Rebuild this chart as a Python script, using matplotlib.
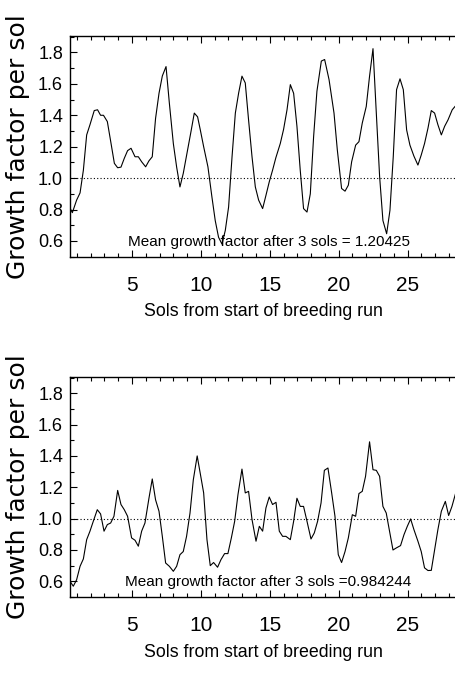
import matplotlib
matplotlib.use("Agg")
import matplotlib.pyplot as plt
from matplotlib import font_manager
from matplotlib.ticker import MultipleLocator

# ---------------- data ----------------
top_sols = [0.52, 0.67, 0.98, 1.23, 1.47, 1.71, 1.95, 2.26, 2.5, 2.72, 2.93, 3.21, 3.48, 3.72,
            3.96, 4.2, 4.44, 4.68, 4.93, 5.22, 5.46, 5.70, 5.99, 6.23, 6.47, 6.71, 6.96, 7.2,
            7.47, 7.71, 8.0, 8.24, 8.48, 8.72, 9.01, 9.28, 9.52, 9.76, 9.95, 10.2, 10.51, 10.8,
            11.04, 11.28, 11.53, 11.77, 12.01, 12.26, 12.5, 12.74, 12.98, 13.22, 13.46, 13.71,
            13.95, 14.19, 14.48, 14.72, 14.96, 15.2, 15.44, 15.76, 16.0, 16.25, 16.49, 16.73,
            16.97, 17.21, 17.45, 17.7, 17.94, 18.18, 18.42, 18.74, 18.98, 19.3, 19.66, 19.9,
            20.21, 20.46, 20.7, 20.94, 21.23, 21.47, 21.71, 22.0, 22.24, 22.49, 22.73, 22.97,
            23.21, 23.48, 23.72, 23.96, 24.2, 24.45, 24.69, 24.93, 25.17, 25.46, 25.75, 25.99,
            26.23, 26.48, 26.72, 26.96, 27.2, 27.45, 27.69, 27.93, 28.24, 28.48]
top_growth = [0.806, 0.78, 0.86, 0.906, 1.05, 1.275, 1.34, 1.43, 1.435, 1.40, 1.40, 1.36, 1.22,
              1.094, 1.066, 1.07, 1.126, 1.175, 1.19, 1.136, 1.136, 1.104, 1.072, 1.11, 1.136,
              1.38, 1.54, 1.65, 1.71, 1.478, 1.22, 1.07, 0.944, 1.03, 1.168, 1.296, 1.414, 1.39,
              1.31, 1.20, 1.072, 0.88, 0.73, 0.624, 0.58, 0.667, 0.816, 1.136, 1.414, 1.542,
              1.649, 1.606, 1.37, 1.136, 0.944, 0.86, 0.806, 0.89, 0.976, 1.05, 1.13, 1.22,
              1.31, 1.435, 1.595, 1.54, 1.33, 1.05, 0.806, 0.784, 0.90, 1.264, 1.553, 1.745,
              1.755, 1.627, 1.414, 1.18, 0.934, 0.917, 0.955, 1.104, 1.21, 1.232, 1.35, 1.456,
              1.649, 1.824, 1.414, 1.01, 0.73, 0.646, 0.795, 1.136, 1.563, 1.632, 1.563, 1.307,
              1.21, 1.14, 1.083, 1.147, 1.22, 1.318, 1.43, 1.414, 1.34, 1.275, 1.33, 1.37,
              1.435, 1.46]

bottom_sols = [0.5, 0.74, 0.98, 1.23, 1.47, 1.71, 1.95, 2.19, 2.48, 2.72, 2.97, 3.21, 3.45, 3.69,
               3.96, 4.2, 4.44, 4.68, 4.97, 5.22, 5.46, 5.7, 5.94, 6.23, 6.47, 6.71, 6.96, 7.2,
               7.44, 7.71, 8.0, 8.24, 8.48, 8.72, 8.96, 9.21, 9.45, 9.73, 9.97, 10.2, 10.44,
               10.68, 10.92, 11.21, 11.46, 11.72, 11.96, 12.21, 12.45, 12.69, 12.98, 13.22,
               13.46, 13.71, 14.0, 14.24, 14.48, 14.72, 14.96, 15.2, 15.45, 15.69, 15.93, 16.17,
               16.49, 16.73, 16.97, 17.21, 17.45, 17.7, 17.99, 18.23, 18.47, 18.72, 18.96,
               19.22, 19.49, 19.73, 19.97, 20.21, 20.46, 20.7, 20.99, 21.23, 21.47, 21.71,
               21.95, 22.24, 22.49, 22.73, 22.97, 23.21, 23.45, 23.69, 23.94, 24.18, 24.49,
               24.74, 24.98, 25.22, 25.46, 25.75, 25.99, 26.23, 26.48, 26.72, 26.96, 27.2,
               27.45, 27.74, 27.98, 28.22, 28.48]
bottom_growth = [0.60, 0.569, 0.61, 0.696, 0.743, 0.866, 0.92, 0.983, 1.057, 1.03, 0.92, 0.962,
                 0.972, 1.015, 1.18, 1.09, 1.057, 1.015, 0.877, 0.862, 0.824, 0.92, 0.972, 1.13,
                 1.253, 1.12, 1.047, 0.887, 0.717, 0.696, 0.664, 0.696, 0.77, 0.79, 0.887, 1.036,
                 1.248, 1.40, 1.28, 1.164, 0.866, 0.70, 0.72, 0.69, 0.739, 0.777, 0.777, 0.877,
                 0.983, 1.153, 1.316, 1.164, 1.174, 0.994, 0.856, 0.951, 0.92, 1.068, 1.138,
                 1.09, 1.104, 0.92, 0.887, 0.887, 0.866, 0.983, 1.13, 1.078, 1.078, 0.983, 0.87,
                 0.909, 0.983, 1.10, 1.308, 1.323, 1.164, 1.015, 0.77, 0.72, 0.79, 0.877, 1.025,
                 1.015, 1.16, 1.174, 1.27, 1.49, 1.312, 1.308, 1.27, 1.078, 1.036, 0.92, 0.80,
                 0.813, 0.828, 0.898, 0.951, 0.998, 0.93, 0.856, 0.79, 0.686, 0.669, 0.67, 0.80,
                 0.93, 1.047, 1.11, 1.02, 1.078, 1.16]

x_ticks = [5, 10, 15, 20, 25]
y_ticks = [0.6, 0.8, 1.0, 1.2, 1.4, 1.6, 1.8]
y_tick_labels = ["0.6", "0.8", "1.0", "1.2", "1.4", "1.6", "1.8"]
annotations = ["Mean growth factor after 3 sols = 1.20425",
               "Mean growth factor after 3 sols =0.984244"]
x_label = "Sols from start of breeding run"
y_label = "Growth factor per sol"
reference_level = 1.0

# ---------------- fonts ----------------
names = {f.name for f in font_manager.fontManager.ttflist}
if "Liberation Sans Narrow" in names:
    NARROW, scale = "Liberation Sans Narrow", 1.18
else:
    NARROW, scale = "Liberation Sans", 1.0

# ---------------- figure ----------------
fig = plt.figure(figsize=(4.56, 6.73), dpi=100)
positions = [[0.1535, 0.6186, 0.8476, 0.328], [0.1535, 0.1129, 0.8476, 0.3273]]
series = [(top_sols, top_growth), (bottom_sols, bottom_growth)]
ann_pos = [(14.93, 0.565), (14.86, 0.569)]

for pos, (xs, ys), ann, ap in zip(positions, series, annotations, ann_pos):
    ax = fig.add_axes(pos)
    ax.plot(xs, ys, color="black", lw=0.8)
    ax.axhline(reference_level, color="black", lw=0.8, ls=(0, (1, 2)))
    ax.set_xlim(0.5, 28.55)
    ax.set_ylim(0.5, 1.905)
    ax.spines["right"].set_visible(False)
    for s in ["left", "top", "bottom"]:
        ax.spines[s].set_linewidth(1.0)
    ax.set_xticks(x_ticks)
    ax.set_xticklabels([str(t) for t in x_ticks], fontfamily=NARROW, fontsize=15 * scale)
    ax.set_yticks(y_ticks)
    ax.set_yticklabels(y_tick_labels, fontfamily=NARROW, fontsize=13 * scale)
    ax.xaxis.set_minor_locator(MultipleLocator(1))
    ax.yaxis.set_minor_locator(MultipleLocator(0.1))
    ax.tick_params(which="both", direction="in", top=True, right=False, width=0.8)
    ax.tick_params(which="major", length=5)
    ax.tick_params(which="minor", length=3)
    ax.tick_params(axis="x", which="major", pad=14)
    ax.tick_params(axis="y", which="major", pad=5)
    ax.set_xlabel(x_label, fontfamily=NARROW, fontsize=12.8 * scale, labelpad=6)
    ax.set_ylabel(y_label, fontfamily="DejaVu Sans", fontsize=18)
    ax.yaxis.set_label_coords(-0.104, 0.5)
    ax.text(ap[0], ap[1], ann, ha="center", va="baseline",
            fontfamily=NARROW, fontsize=11 * scale)

fig.savefig("out.png", dpi=100)
